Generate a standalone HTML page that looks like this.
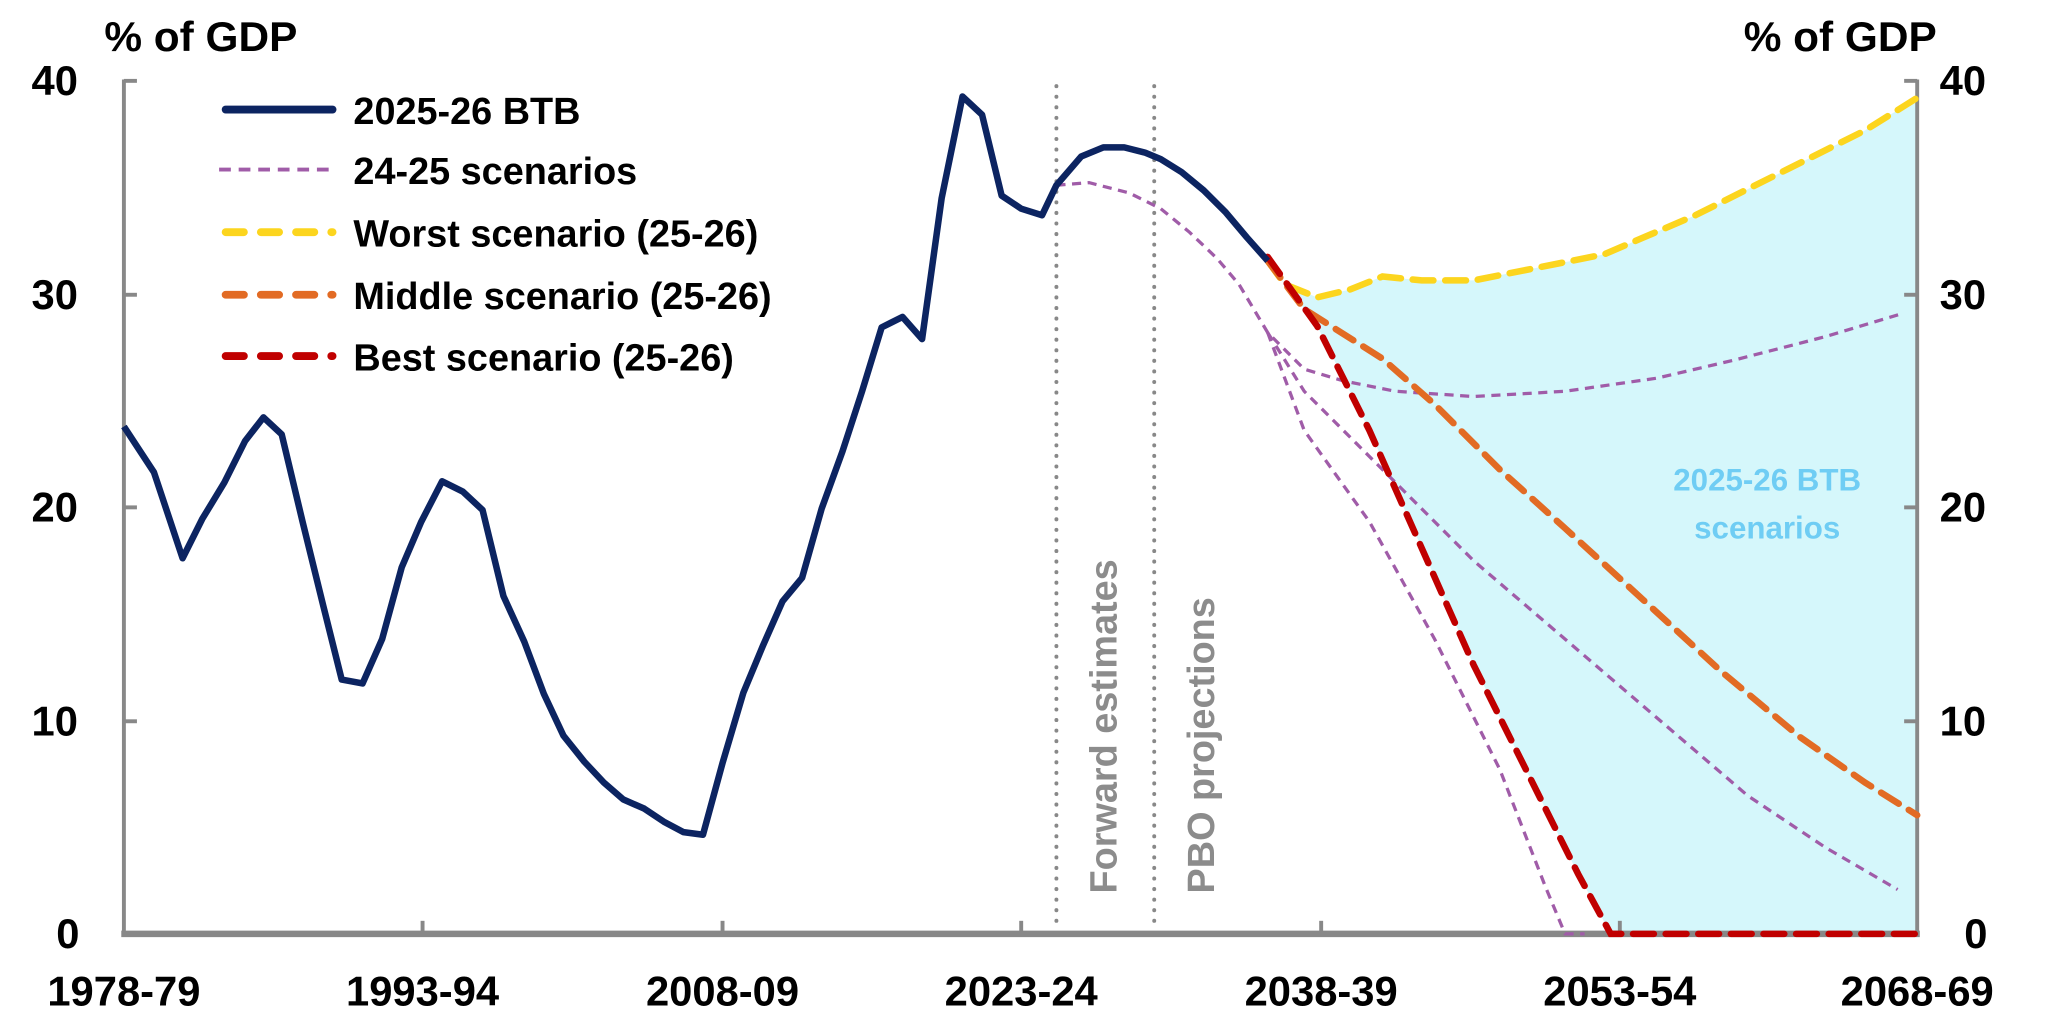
<!DOCTYPE html>
<html><head><meta charset="utf-8"><style>
html,body{margin:0;padding:0;background:#fff;}
svg{display:block;}
text{font-family:"Liberation Sans",sans-serif;font-weight:bold;}
</style></head><body>
<svg width="2045" height="1033" viewBox="0 0 1568 792" preserveAspectRatio="none" xmlns="http://www.w3.org/2000/svg">
<polygon fill="#d5f7fb" points="972,200 985,218 1010,228 1035,222 1060,212 1090,215 1130,215 1180,205 1230,195 1300,165 1370,130 1430,100 1470,75 1470,716 1235,716 1210,670 1170,590 1130,510 1090,420 1050,330 1010,250"/>
<g stroke="#888" stroke-width="3" fill="none">
<line x1="95" y1="61" x2="95" y2="718"/>
<line x1="1470" y1="61" x2="1470" y2="718"/>
<line x1="93" y1="716" x2="1472" y2="716" stroke-width="5"/>
<line x1="95" y1="62" x2="105" y2="62"/><line x1="95" y1="226" x2="105" y2="226"/><line x1="95" y1="389" x2="105" y2="389"/><line x1="95" y1="553" x2="105" y2="553"/>
<line x1="1470" y1="62" x2="1460" y2="62"/><line x1="1470" y1="226" x2="1460" y2="226"/><line x1="1470" y1="389" x2="1460" y2="389"/><line x1="1470" y1="553" x2="1460" y2="553"/>
<line x1="324" y1="716" x2="324" y2="706"/><line x1="554" y1="716" x2="554" y2="706"/><line x1="783" y1="716" x2="783" y2="706"/><line x1="1013" y1="716" x2="1013" y2="706"/><line x1="1242" y1="716" x2="1242" y2="706"/>
</g>
<g stroke="#888" stroke-width="3" stroke-dasharray="0.1 8" stroke-linecap="round">
<line x1="810" y1="66" x2="810" y2="714"/><line x1="885" y1="66" x2="885" y2="714"/>
</g>
<text transform="translate(856,685) rotate(-90)" font-size="29" fill="#8c8c8c">Forward estimates</text>
<text transform="translate(931,685) rotate(-90)" font-size="29" fill="#8c8c8c">PBO projections</text>
<g font-size="32" fill="#000">
<text x="80" y="39" textLength="148" lengthAdjust="spacingAndGlyphs">% of GDP</text>
<text x="1337" y="39" textLength="148" lengthAdjust="spacingAndGlyphs">% of GDP</text>
<g text-anchor="middle">
<text x="42" y="73">40</text><text x="42" y="237">30</text><text x="42" y="400">20</text><text x="42" y="564">10</text><text x="52" y="727">0</text>
<text x="1505" y="73">40</text><text x="1505" y="237">30</text><text x="1505" y="400">20</text><text x="1505" y="564">10</text><text x="1515" y="727">0</text>
<text x="95" y="771">1978-79</text><text x="324" y="771">1993-94</text><text x="554" y="771">2008-09</text><text x="783" y="771">2023-24</text><text x="1013" y="771">2038-39</text><text x="1242" y="771">2053-54</text><text x="1470" y="771">2068-69</text>
</g></g>
<text x="1355" y="376" font-size="24" fill="#6fcdf4" text-anchor="middle">2025-26 BTB</text>
<text x="1355" y="413" font-size="24" fill="#6fcdf4" text-anchor="middle">scenarios</text>
<g stroke="#a05ca8" stroke-width="2.5" fill="none" stroke-dasharray="7 5">
<polyline points="810,142 835,140 866,148 890,160 912,178 933,198 950,218 972,255 1000,283 1030,292 1070,300 1130,304 1200,300 1270,290 1330,276 1400,258 1460,240"/>
<polyline points="972,255 1000,300 1040,340 1080,380 1130,430 1200,490 1270,550 1340,610 1400,650 1455,682"/>
<polyline points="972,255 1000,330 1050,400 1100,490 1150,590 1185,680 1200,716 1215,716"/>
</g>
<polyline fill="none" stroke="#fcd51e" stroke-width="5" stroke-dasharray="16 9" stroke-linecap="round" points="972,200 985,218 1010,228 1035,222 1060,212 1090,215 1130,215 1180,205 1230,195 1300,165 1370,130 1430,100 1470,75"/>
<polyline fill="none" stroke="#e26b24" stroke-width="5" stroke-dasharray="16 9" stroke-linecap="round" points="972,200 1000,237 1060,275 1100,310 1150,360 1200,405 1260,460 1320,515 1380,565 1430,600 1470,625"/>
<polyline fill="none" stroke="#c00000" stroke-width="5" stroke-dasharray="16 9" stroke-linecap="round" points="972,197 1010,250 1050,330 1090,420 1130,510 1170,590 1210,670 1235,716 1470,716"/>
<polyline fill="none" stroke="#0c2461" stroke-width="5" stroke-linejoin="round" points="95,327 118,362 140,428 155,398 172,370 188,338 202,320 216,333 232,400 248,465 262,521 278,524 293,490 308,435 323,400 339,369 355,377 370,391 386,457 402,492 417,532 432,564 448,584 463,600 478,613 494,620 509,630 524,638 539,640 554,585 570,531 585,495 600,461 615,443 630,390 646,346 661,300 676,251 692,243 707,260 722,152 738,74 753,88 768,150 783,160 799,165 810,142 829,120 846,113 862,113 878,117 890,122 906,132 923,146 940,163 956,182 972,200"/>
<line x1="173" y1="84" x2="255" y2="84" stroke="#0c2461" stroke-width="6" stroke-linecap="round"/>
<line x1="168" y1="130" x2="252" y2="130" stroke="#a05ca8" stroke-width="3" stroke-dasharray="9 6"/>
<line x1="173" y1="178" x2="255" y2="178" stroke="#fcd51e" stroke-width="6" stroke-dasharray="14 13" stroke-linecap="round"/>
<line x1="173" y1="226" x2="255" y2="226" stroke="#e26b24" stroke-width="6" stroke-dasharray="14 13" stroke-linecap="round"/>
<line x1="173" y1="273" x2="255" y2="273" stroke="#c00000" stroke-width="6" stroke-dasharray="14 13" stroke-linecap="round"/>
<g font-size="29" fill="#000">
<text x="271" y="95">2025-26 BTB</text>
<text x="271" y="141">24-25 scenarios</text>
<text x="271" y="189">Worst scenario (25-26)</text>
<text x="271" y="237">Middle scenario (25-26)</text>
<text x="271" y="284">Best scenario (25-26)</text>
</g>
</svg>
</body></html>
